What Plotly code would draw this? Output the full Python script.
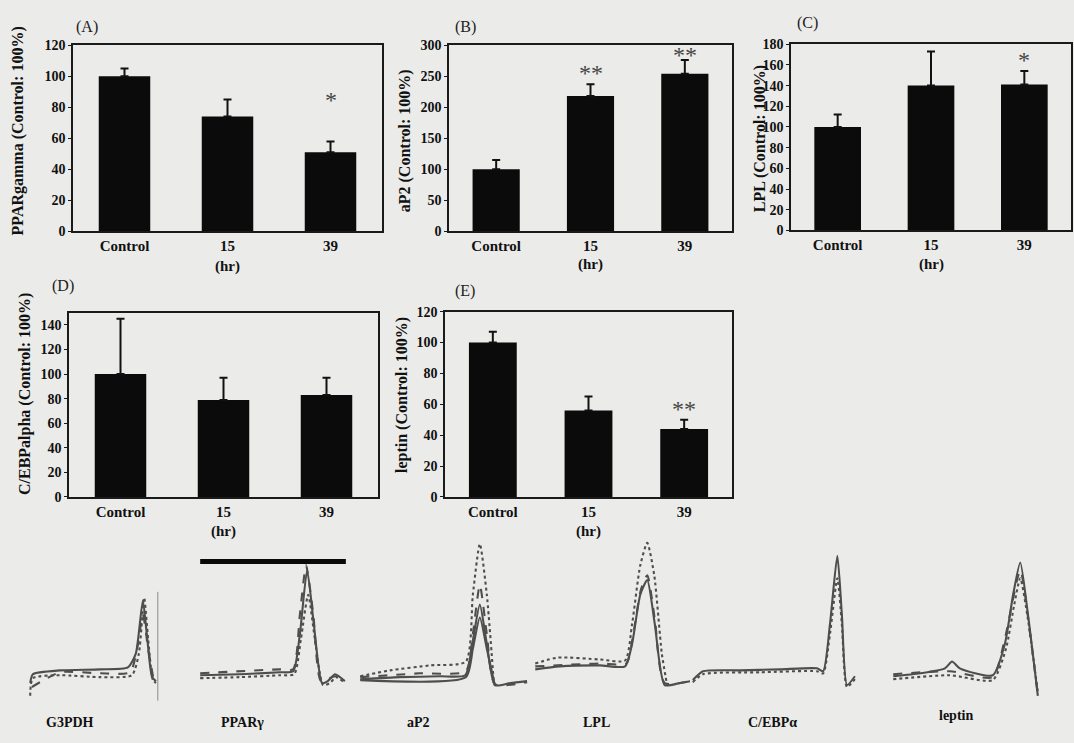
import plotly.graph_objects as go

# ---------------- data ----------------
categories = ["Control", "15", "39"]

pparg_mean = [100, 74, 51]
pparg_sem = [5, 11, 7]
pparg_star = ["", "", "*"]
pparg_star_y = [None, None, 83]

ap2_mean = [100, 218, 254]
ap2_sem = [15, 19, 22]
ap2_star = ["", "**", "**"]
ap2_star_y = [None, 251, 279]

lpl_mean = [100, 140, 141]
lpl_sem = [12, 33, 13]
lpl_star = ["", "", "*"]
lpl_star_y = [None, None, 162]

cebpa_mean = [100, 79, 83]
cebpa_sem = [45, 18, 14]
cebpa_star = ["", "", ""]
cebpa_star_y = [None, None, None]

leptin_mean = [100, 56, 44]
leptin_sem = [7, 9, 6]
leptin_star = ["", "", "**"]
leptin_star_y = [None, None, 55]

# melting curves (temperature, -dF/dT relative units)
g3pdh_curves = [
    ([65.5, 66.1, 72.3, 81.4, 87.7, 89.5, 91.1, 92.0, 93.2, 94.1],
     [14.7, 20.7, 23.3, 24.0, 25.3, 34.7, 70.7, 48.0, 18.7, 16.0]),
    ([65.5, 66.1, 72.3, 81.4, 88.6, 90.2, 91.4, 92.3, 93.4, 94.1],
     [6.0, 18.0, 20.0, 18.7, 20.0, 34.7, 72.7, 44.7, 16.7, 14.7]),
    ([65.9, 72.3, 81.4, 88.2, 89.8, 91.1, 92.3, 93.6],
     [12.0, 22.0, 21.3, 22.0, 38.0, 61.3, 38.0, 16.0]),
]
g3pdh_line_t = [94.5, 94.5]
g3pdh_line_y = [2.7, 76.7]

pparg_curves = [
    ([66.0, 73.7, 81.4, 84.0, 85.3, 86.7, 88.0, 89.6, 90.7, 92.1, 94.0],
     [20.0, 20.7, 22.0, 22.7, 48.0, 91.3, 54.7, 14.7, 16.0, 20.7, 16.0]),
    ([66.0, 73.7, 81.4, 84.2, 85.5, 86.9, 88.2, 89.8, 91.1, 92.3, 94.0],
     [18.0, 18.7, 20.0, 20.7, 44.7, 74.7, 44.7, 13.3, 14.7, 18.7, 14.7]),
    ([66.0, 81.4, 84.0, 85.3, 86.5, 87.9, 89.4, 92.1, 94.0],
     [21.3, 24.0, 24.0, 61.3, 94.7, 61.3, 16.0, 19.3, 17.3]),
]
pparg_bar_t = [66.0, 94.2]
pparg_bar_y = [97.3, 97.3]

ap2_curves = [
    ([65.9, 72.7, 79.6, 83.9, 85.1, 86.4, 87.6, 89.0, 91.6, 94.5],
     [17.3, 18.7, 19.3, 20.0, 41.3, 68.0, 41.3, 13.3, 14.7, 16.0]),
    ([65.9, 71.0, 77.9, 84.0, 85.2, 86.4, 87.6, 88.8],
     [19.3, 23.3, 26.7, 29.3, 74.7, 109.3, 74.7, 14.7]),
    ([65.9, 76.1, 84.0, 85.2, 86.4, 87.6, 89.0, 94.5],
     [18.7, 21.3, 22.7, 48.0, 81.3, 48.0, 14.0, 15.3]),
    ([65.9, 84.0, 85.2, 86.4, 87.6, 89.0],
     [16.7, 18.7, 38.0, 59.3, 38.0, 12.7]),
]

lpl_curves = [
    ([65.9, 70.1, 77.0, 81.3, 82.5, 83.9, 85.1, 86.4, 88.1, 90.7, 93.8],
     [24.0, 26.0, 26.7, 26.0, 41.3, 74.7, 84.7, 54.7, 13.3, 14.7, 16.7]),
    ([65.9, 69.8, 77.0, 81.3, 82.5, 83.9, 85.1, 86.3, 87.6, 88.5],
     [28.0, 32.0, 30.7, 30.0, 54.7, 94.7, 110.0, 88.0, 34.7, 13.3]),
    ([65.9, 77.0, 81.5, 82.7, 84.0, 85.1, 86.4, 88.1, 93.8],
     [26.0, 28.0, 28.0, 48.0, 78.0, 88.0, 58.0, 14.7, 17.3]),
]

cebpa_curves = [
    ([65.5, 67.3, 73.8, 80.9, 87.4, 88.5, 89.7, 91.0, 91.8, 92.7, 94.1],
     [16.7, 22.7, 23.3, 24.0, 24.7, 22.7, 54.7, 101.3, 61.3, 13.3, 19.3]),
    ([65.5, 67.3, 77.4, 87.4, 88.5, 89.7, 91.0, 91.8, 92.7, 94.1],
     [15.3, 20.7, 22.0, 22.7, 21.3, 48.0, 86.0, 54.7, 12.0, 17.3]),
]

leptin_curves = [
    ([67.4, 72.3, 76.8, 78.1, 79.5, 85.5, 87.7, 89.2, 90.5, 91.9, 93.7],
     [19.3, 21.3, 24.7, 29.3, 24.7, 20.0, 41.3, 74.7, 96.7, 61.3, 6.0]),
    ([67.4, 77.7, 85.5, 87.9, 89.4, 90.5, 91.9, 93.7],
     [17.3, 20.0, 16.7, 38.0, 68.0, 86.0, 58.0, 8.0]),
    ([67.4, 77.7, 85.5, 87.7, 90.5, 92.3, 93.7],
     [20.7, 22.7, 18.7, 44.7, 91.3, 48.0, 6.7]),
]

# ---------------- layout helpers ----------------
W, H = 1074, 743
BG = "#ebebe9"
INK = "#111111"
SERIF = "Liberation Serif"


def dx(a, b):
    return [a / W, b / W]


def dy(top, bottom):
    return [1 - bottom / H, 1 - top / H]


fig = go.Figure()

panels = [
    dict(mean=pparg_mean, sem=pparg_sem, star=pparg_star, star_y=pparg_star_y, ymax=120,
         ticks=list(range(0, 121, 20)), xd=(73, 382), yd=(39, 229),
         title="PPARgamma (Control: 100%)", tpos=(18, 127), letter="(A)", lpos=(87, 20), hr=265),
    dict(mean=ap2_mean, sem=ap2_sem, star=ap2_star, star_y=ap2_star_y, ymax=300,
         ticks=list(range(0, 301, 50)), xd=(449, 732), yd=(39, 229),
         title="aP2 (Control: 100%)", tpos=(405, 137), letter="(B)", lpos=(465, 20), hr=263),
    dict(mean=lpl_mean, sem=lpl_sem, star=lpl_star, star_y=lpl_star_y, ymax=180,
         ticks=list(range(0, 181, 20)), xd=(791, 1071), yd=(38, 228),
         title="LPL (Control: 100%)", tpos=(760, 135), letter="(C)", lpos=(807, 16), hr=263),
    dict(mean=cebpa_mean, sem=cebpa_sem, star=cebpa_star, star_y=cebpa_star_y, ymax=150,
         ticks=list(range(0, 141, 20)), xd=(69, 378), yd=(312, 500),
         title="C/EBPalpha (Control: 100%)", tpos=(25, 395), letter="(D)", lpos=(63, 285), hr=535),
    dict(mean=leptin_mean, sem=leptin_sem, star=leptin_star, star_y=leptin_star_y, ymax=120,
         ticks=list(range(0, 121, 20)), xd=(445, 732), yd=(311, 500),
         title="leptin (Control: 100%)", tpos=(402, 396), letter="(E)", lpos=(465, 290), hr=535),
]

annotations = []
layout_axes = {}

for i, p in enumerate(panels, start=1):
    xa = "x" if i == 1 else f"x{i}"
    ya = "y" if i == 1 else f"y{i}"
    fig.add_trace(go.Bar(
        x=categories, y=p["mean"], xaxis=xa, yaxis=ya, width=0.5,
        marker=dict(color="#0b0b0b", line=dict(width=0)),
        error_y=dict(type="data", array=p["sem"], arrayminus=[0, 0, 0], symmetric=False,
                     color=INK, thickness=2, width=4),
        showlegend=False, hoverinfo="skip",
    ))
    xkey = "xaxis" if i == 1 else f"xaxis{i}"
    ykey = "yaxis" if i == 1 else f"yaxis{i}"
    layout_axes[xkey] = dict(
        domain=dx(*p["xd"]), anchor=ya, type="category", range=[-0.5, 2.5],
        showline=True, mirror=True, linecolor="#1a1a1a", linewidth=1.6,
        ticks="", showgrid=False, zeroline=False,
        tickfont=dict(family=SERIF, size=15, color=INK, weight="bold"),
    )
    layout_axes[ykey] = dict(
        domain=dy(*p["yd"]), anchor=xa, range=[0, p["ymax"]], tickvals=p["ticks"],
        showline=True, mirror=True, linecolor="#1a1a1a", linewidth=1.6,
        ticks="outside", ticklen=3, tickcolor="#1a1a1a", showgrid=False, zeroline=False,
        tickfont=dict(family=SERIF, size=14, color=INK, weight="bold"),
    )
    # significance marks (category axes take the category index for annotations)
    for ci, (s, sy) in enumerate(zip(p["star"], p["star_y"])):
        if s:
            annotations.append(dict(x=ci, y=sy, xref=xa, yref=ya, text=s, showarrow=False,
                                    font=dict(family=SERIF, size=24, color="#454545"),
                                    yanchor="middle", yshift=3))
    annotations.append(dict(x=p["tpos"][0] / W, y=1 - p["tpos"][1] / H, xref="paper", yref="paper",
                            text=p["title"], textangle=-90, showarrow=False,
                            font=dict(family=SERIF, size=16, color=INK, weight="bold"),
                            xanchor="center", yanchor="middle"))
    annotations.append(dict(x=p["lpos"][0] / W, y=1 - p["lpos"][1] / H, xref="paper", yref="paper",
                            text=p["letter"], showarrow=False,
                            font=dict(family=SERIF, size=16, color="#222"),
                            xanchor="center", yanchor="middle"))
    annotations.append(dict(x=categories.index("15"), y=1 - p["hr"] / H, xref=xa, yref="paper",
                            text="(hr)", showarrow=False,
                            font=dict(family=SERIF, size=15, color=INK, weight="bold"),
                            xanchor="center", yanchor="middle"))

# ---------------- melting curves ----------------
melt = [
    ("G3PDH", g3pdh_curves, (28, 160), (70, 730)),
    ("PPARγ", pparg_curves, (195, 350), (242, 730)),
    ("aP2", ap2_curves, (355, 530), (418, 730)),
    ("LPL", lpl_curves, (530, 705), (596, 730)),
    ("C/EBPα", cebpa_curves, (690, 860), (772, 730)),
    ("leptin", leptin_curves, (880, 1045), (956, 723)),
]
dashes = ["solid", "dot", "dash", "solid"]
for j, (name, curves, xd, lab) in enumerate(melt, start=6):
    xa, ya = f"x{j}", f"y{j}"
    for k, (t, v) in enumerate(curves):
        fig.add_trace(go.Scatter(
            x=t, y=v, xaxis=xa, yaxis=ya, mode="lines",
            line=dict(color="#4e4e4e", width=2.1, dash=dashes[k % len(dashes)], shape="spline",
                      smoothing=0.6),
            showlegend=False, hoverinfo="skip",
        ))
    layout_axes[f"xaxis{j}"] = dict(domain=dx(*xd), anchor=ya, range=[65, 95], visible=False)
    layout_axes[f"yaxis{j}"] = dict(domain=dy(545, 712), anchor=xa, range=[0, 111.3], visible=False)
    annotations.append(dict(x=lab[0] / W, y=1 - lab[1] / H, xref="paper", yref="paper",
                            text=name, showarrow=False,
                            font=dict(family=SERIF, size=14, color=INK, weight="bold"),
                            xanchor="center", yanchor="middle"))

fig.add_trace(go.Scatter(x=g3pdh_line_t, y=g3pdh_line_y, xaxis="x6", yaxis="y6", mode="lines",
                         line=dict(color="#8a8a8a", width=1), showlegend=False, hoverinfo="skip"))
fig.add_trace(go.Scatter(x=pparg_bar_t, y=pparg_bar_y, xaxis="x7", yaxis="y7", mode="lines",
                         line=dict(color="#0a0a0a", width=5), showlegend=False, hoverinfo="skip"))

fig.update_layout(
    width=W, height=H, margin=dict(l=0, r=0, t=0, b=0),
    paper_bgcolor=BG, plot_bgcolor=BG,
    showlegend=False, annotations=annotations, bargap=0.5,
    **layout_axes,
)

fig.write_html(
    "out.html",
    config={"displayModeBar": False},
    post_script="document.body.style.margin='0';document.body.style.background='#ebebe9';",
)
